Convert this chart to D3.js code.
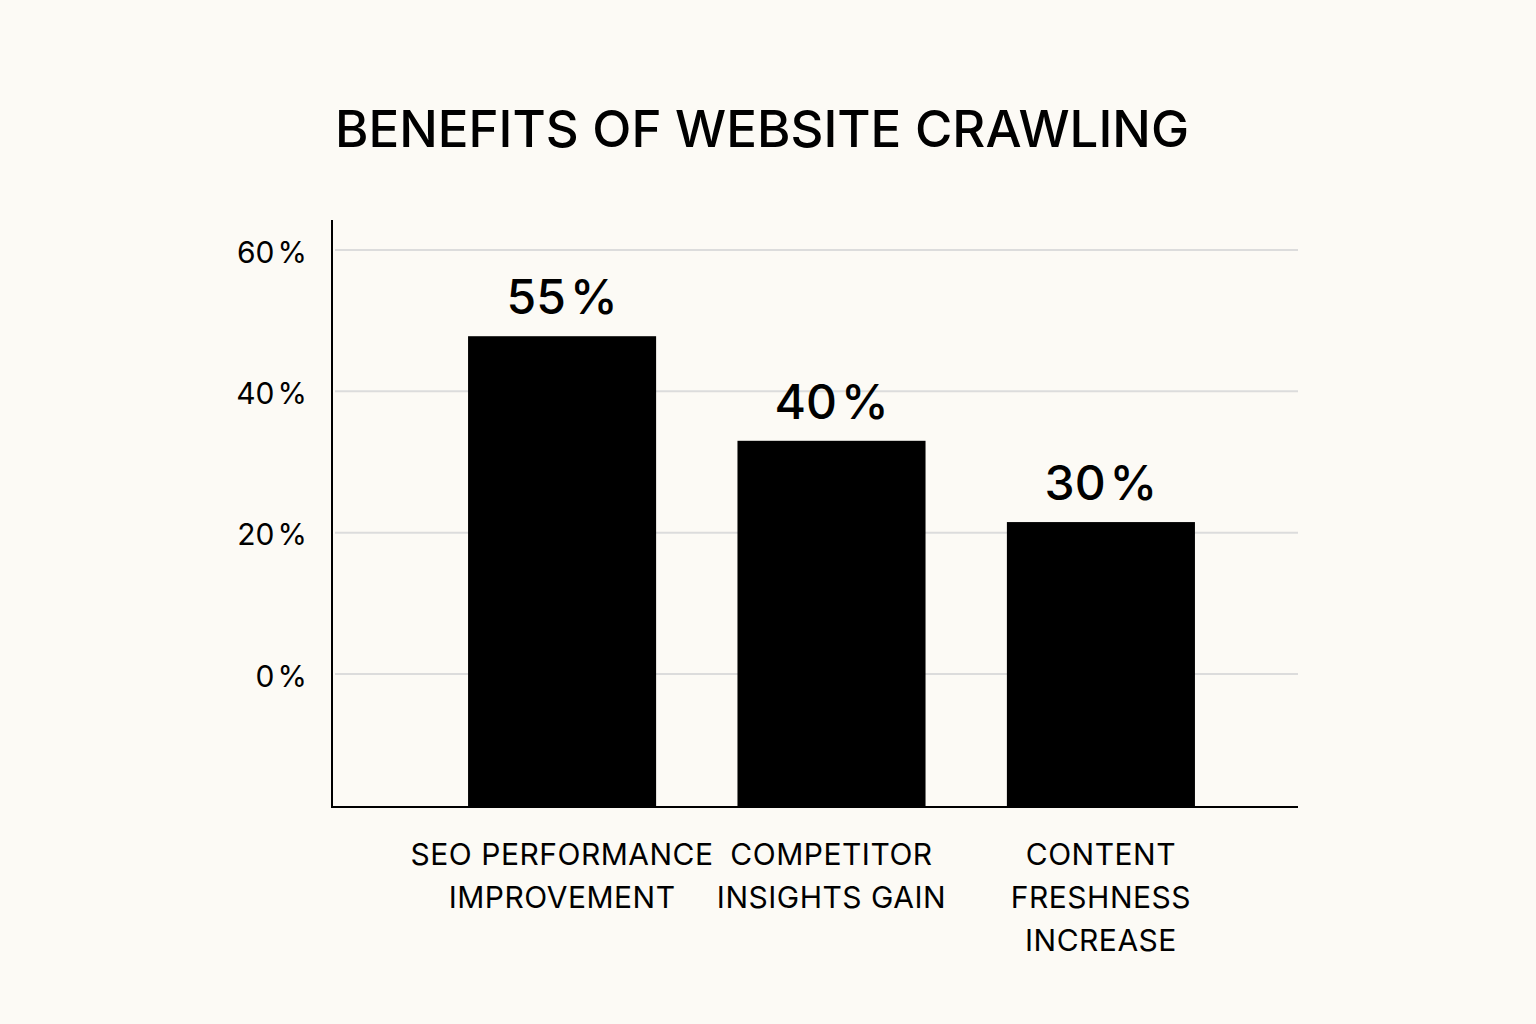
<!DOCTYPE html>
<html>
<head>
<meta charset="utf-8">
<script src="https://cdn.jsdelivr.net/npm/d3@7"></script>
<style>
  html, body { margin: 0; padding: 0; background: #fcfaf5; }
  text { font-family: "Inter", "Liberation Sans", sans-serif; fill: #000; }
</style>
</head>
<body>
<div id="chart"></div>
<script>
// Svg Dimensions
var svgWidth = 1536;
var svgHeight = 1024;

// Chart data
var categories = [
    ["SEO PERFORMANCE", "IMPROVEMENT"],
    ["COMPETITOR", "INSIGHTS GAIN"],
    ["CONTENT", "FRESHNESS", "INCREASE"]
];
var valueLabels = [55, 40, 30];
// bar heights as they sit against the axis ticks
var barLevels = [47.8, 33.0, 21.5];
var tickValues = [0, 20, 40, 60];

// Plot area
var plot = { left: 332, right: 1298, top: 220, bottom: 807 };

var svg = d3.select("#chart")
    .append("svg")
    .attr("width", svgWidth)
    .attr("height", svgHeight);

// Scales
var xScale = d3.scaleBand()
    .domain(d3.range(categories.length))
    .range([plot.left, 1331])
    .paddingInner(0.302)
    .paddingOuter(0.505);

var yScale = d3.scaleLinear()
    .domain([-18.82, 60])
    .range([plot.bottom, 250]);

// Writes "NN%" with a slightly wider gap before the percent sign
function percentText(sel, num, gap) {
    sel.text(null);
    sel.append("tspan").text(num);
    sel.append("tspan").attr("dx", gap).text("%");
}

// Title
svg.append("text")
    .attr("x", 762)
    .attr("y", 147)
    .attr("text-anchor", "middle")
    .attr("font-size", "51px")
    .attr("font-weight", 500)
    .text("BENEFITS OF WEBSITE CRAWLING");

// Gridlines
svg.append("g")
    .selectAll("line")
    .data(tickValues)
    .enter()
    .append("line")
    .attr("x1", plot.left + 3)
    .attr("x2", plot.right)
    .attr("y1", d => yScale(d))
    .attr("y2", d => yScale(d))
    .attr("stroke", "#dcdcdc")
    .attr("stroke-width", 2);

// Y-Axis tick labels
var leftAxis = d3.axisLeft(yScale)
    .tickValues(tickValues)
    .tickSize(0)
    .tickPadding(25)
    .tickFormat(d => d + "%");

var yAxis = svg.append("g")
    .attr("transform", `translate(${plot.left}, 0)`)
    .call(leftAxis);

yAxis.select(".domain").remove();
yAxis.selectAll("text")
    .attr("font-size", "30px")
    .attr("font-family", "Inter, 'Liberation Sans', sans-serif")
    .attr("fill", "#000")
    .attr("dy", "0.4em")
    .each(function(d) { percentText(d3.select(this), d, 3); });

// Bars
svg.append("g")
    .selectAll("rect")
    .data(barLevels)
    .enter()
    .append("rect")
    .attr("x", (d, i) => xScale(i))
    .attr("y", d => yScale(d))
    .attr("width", xScale.bandwidth())
    .attr("height", d => plot.bottom - yScale(d))
    .attr("fill", "#000");

// Value labels
svg.append("g")
    .selectAll("text")
    .data(barLevels)
    .enter()
    .append("text")
    .attr("x", (d, i) => xScale(i) + xScale.bandwidth() / 2)
    .attr("y", d => yScale(d) - 22)
    .attr("text-anchor", "middle")
    .attr("font-size", "48px")
    .attr("font-weight", 500)
    .each(function(d, i) { percentText(d3.select(this), valueLabels[i], 4); });

// Axis lines
svg.append("line")
    .attr("x1", plot.left).attr("x2", plot.left)
    .attr("y1", plot.top).attr("y2", plot.bottom + 1)
    .attr("stroke", "#000").attr("stroke-width", 2);

svg.append("line")
    .attr("x1", plot.left - 1).attr("x2", plot.right)
    .attr("y1", plot.bottom).attr("y2", plot.bottom)
    .attr("stroke", "#000").attr("stroke-width", 2);

// Category labels
var catGroup = svg.append("g")
    .selectAll("text")
    .data(categories)
    .enter()
    .append("text")
    .attr("x", (d, i) => xScale(i) + xScale.bandwidth() / 2)
    .attr("y", 865)
    .attr("text-anchor", "middle")
    .attr("font-size", "30px")
    .attr("letter-spacing", "0.5px");

catGroup.selectAll("tspan")
    .data(d => d)
    .enter()
    .append("tspan")
    .attr("x", function() { return d3.select(this.parentNode).attr("x"); })
    .attr("dy", (d, i) => i === 0 ? 0 : 43)
    .text(d => d);
</script>
</body>
</html>
